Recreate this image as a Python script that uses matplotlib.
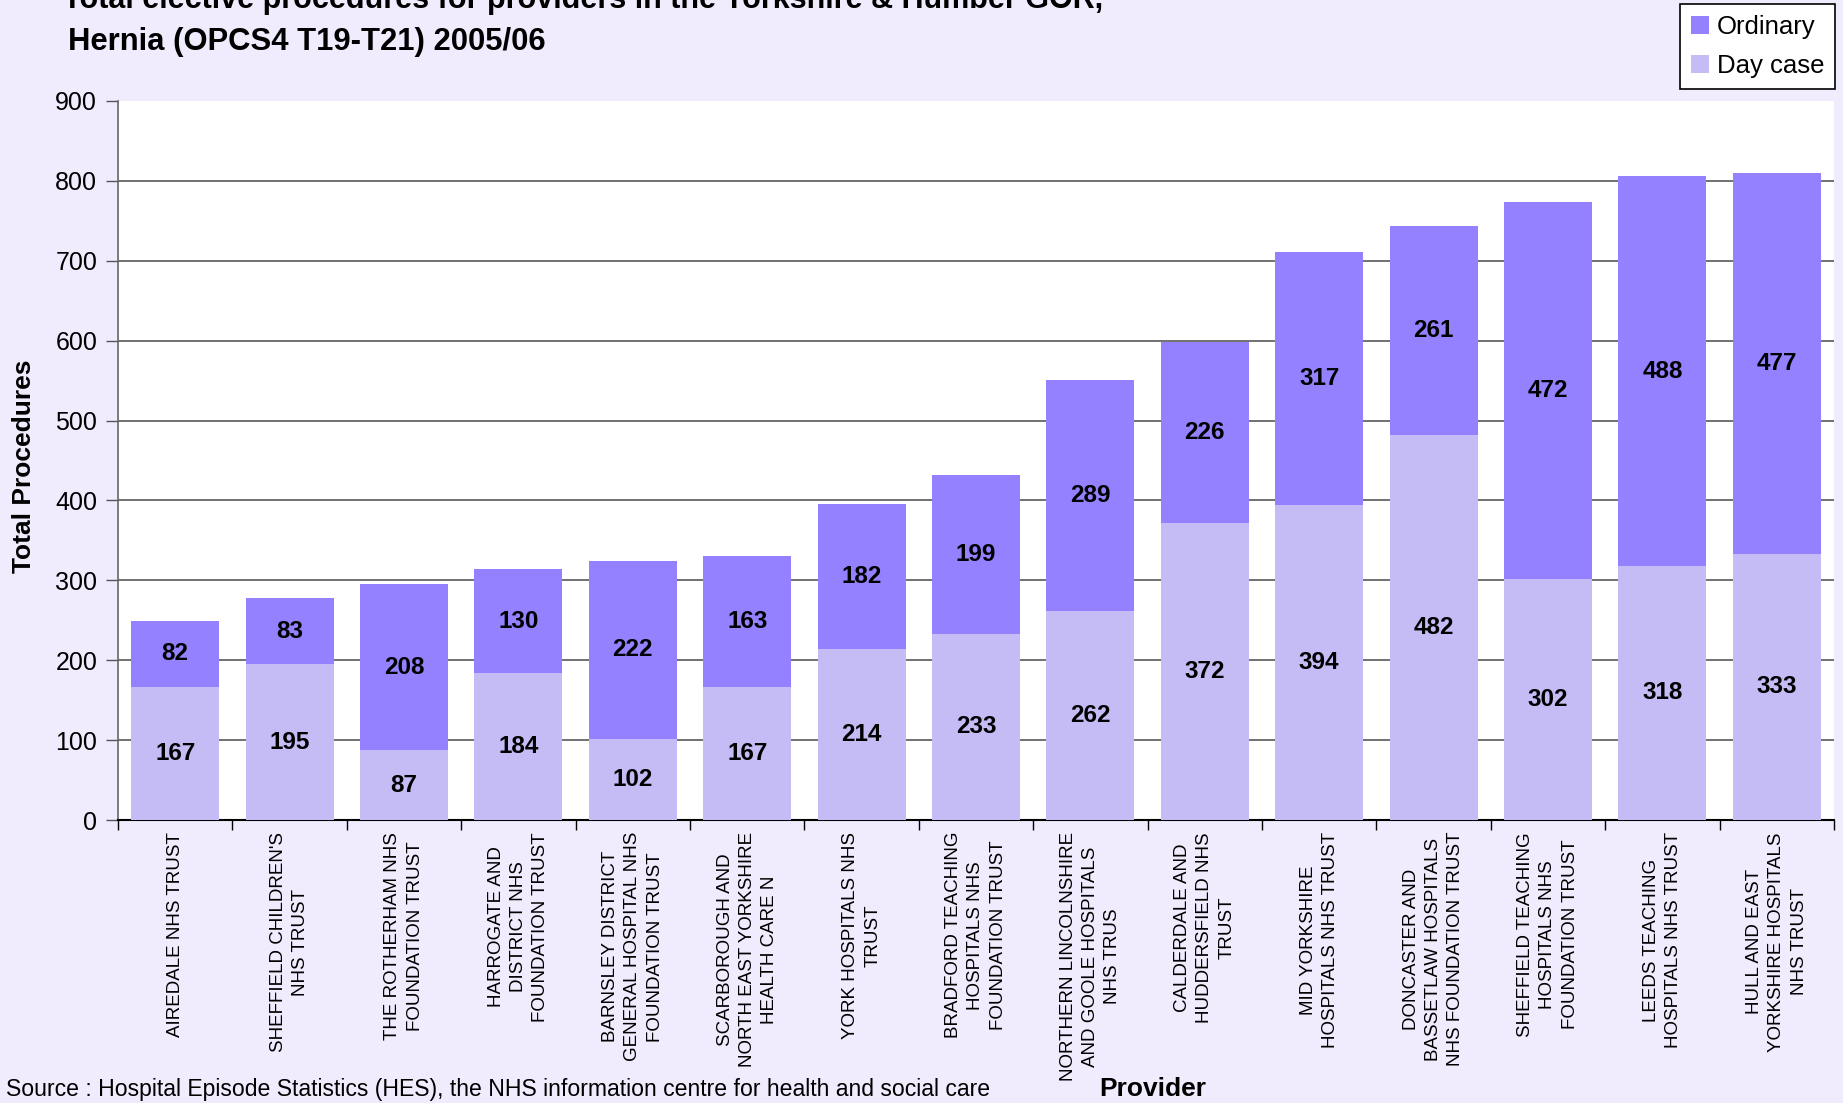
import matplotlib
matplotlib.use('Agg')
import matplotlib.pyplot as plt
import matplotlib.transforms as mtransforms
import numpy as np

# ---------------- data ----------------
providers = [
    "AIREDALE NHS TRUST",
    "SHEFFIELD CHILDREN'S\nNHS TRUST",
    "THE ROTHERHAM NHS\nFOUNDATION TRUST",
    "HARROGATE AND\nDISTRICT NHS\nFOUNDATION TRUST",
    "BARNSLEY DISTRICT\nGENERAL HOSPITAL NHS\nFOUNDATION TRUST",
    "SCARBOROUGH AND\nNORTH EAST YORKSHIRE\nHEALTH CARE N",
    "YORK HOSPITALS NHS\nTRUST",
    "BRADFORD TEACHING\nHOSPITALS NHS\nFOUNDATION TRUST",
    "NORTHERN LINCOLNSHIRE\nAND GOOLE HOSPITALS\nNHS TRUS",
    "CALDERDALE AND\nHUDDERSFIELD NHS\nTRUST",
    "MID YORKSHIRE\nHOSPITALS NHS TRUST",
    "DONCASTER AND\nBASSETLAW HOSPITALS\nNHS FOUNDATION TRUST",
    "SHEFFIELD TEACHING\nHOSPITALS NHS\nFOUNDATION TRUST",
    "LEEDS TEACHING\nHOSPITALS NHS TRUST",
    "HULL AND EAST\nYORKSHIRE HOSPITALS\nNHS TRUST",
]
day_case = [167, 195, 87, 184, 102, 167, 214, 233, 262, 372, 394, 482, 302, 318, 333]
ordinary = [82, 83, 208, 130, 222, 163, 182, 199, 289, 226, 317, 261, 472, 488, 477]
yticks = [0, 100, 200, 300, 400, 500, 600, 700, 800, 900]

title_line1 = "Total elective procedures for providers in the Yorkshire & Humber GOR,"
title_line2 = "Hernia (OPCS4 T19-T21) 2005/06"
source_text = "Source : Hospital Episode Statistics (HES), the NHS information centre for health and social care"

# ---------------- style ----------------
BG = "#F1EBFE"
ORD = "#9381FF"
DAY = "#C5BCF6"

plt.rcParams['font.family'] = ['Liberation Sans', 'DejaVu Sans']

W, H = 1843, 1103
fig = plt.figure(figsize=(W / 100, H / 100), dpi=100, facecolor=BG)

ax_left, ax_right, ax_top, ax_bottom = 118, 1834, 101, 820
ax = fig.add_axes([ax_left / W, 1 - ax_bottom / H,
                   (ax_right - ax_left) / W, (ax_bottom - ax_top) / H])
ax.set_facecolor('white')

x = np.arange(len(providers))
bw = 0.77
b_day = ax.bar(x, day_case, width=bw, color=DAY, zorder=3, label='Day case')
b_ord = ax.bar(x, ordinary, bottom=day_case, width=bw, color=ORD, zorder=3, label='Ordinary')

for xi, d, o in zip(x, day_case, ordinary):
    ax.text(xi, d / 2, str(d), ha='center', va='center', fontsize=17.5,
            fontweight='bold', color='black', zorder=4)
    ax.text(xi, d + o / 2, str(o), ha='center', va='center', fontsize=17.5,
            fontweight='bold', color='black', zorder=4)

ax.set_xlim(-0.5, len(providers) - 0.5)
ax.set_ylim(yticks[0], yticks[-1])

# gridlines (not at top)
ax.hlines(yticks[1:-1], -0.5, len(providers) - 0.5, colors='#4a4a4a',
          linewidth=1.1, zorder=1)

ax.set_yticks(yticks)
ax.set_yticklabels([str(v) for v in yticks])
ax.tick_params(axis='y', length=9, width=1, color='#555555', pad=6, labelsize=18,
               direction='out')
ax.set_xticks(np.arange(-0.5, len(providers), 1))
ax.set_xticklabels([])
ax.tick_params(axis='x', length=7, width=1, color='black', direction='out')

for s in ['top', 'right']:
    ax.spines[s].set_visible(False)
ax.spines['left'].set_color('#666666')
ax.spines['left'].set_linewidth(1.2)
ax.spines['bottom'].set_color('black')
ax.spines['bottom'].set_linewidth(1.5)

trans = mtransforms.blended_transform_factory(ax.transData, ax.transAxes)
off = 12 / (ax_bottom - ax_top)
for xi, lab in zip(x, providers):
    ax.text(xi, -off, lab, transform=trans, rotation=90, ha='center', va='top',
            multialignment='center', fontsize=13.5, linespacing=1.4)

# titles and annotations
fig.text(63 / W, 1 - 8 / H, title_line1, fontsize=22, fontweight='bold',
         ha='left', va='baseline')
fig.text(68 / W, 1 - 50 / H, title_line2, fontsize=22.3, fontweight='bold',
         ha='left', va='baseline')
fig.text(24 / W, 1 - 466 / H, 'Total Procedures', rotation=90, fontsize=19,
         fontweight='bold', ha='center', va='center')
fig.text(6 / W, 1 - 1096 / H, source_text, fontsize=16.6, ha='left', va='baseline')
fig.text(1153 / W, 1 - 1096 / H, 'Provider', fontsize=19, fontweight='bold',
         ha='center', va='baseline')

leg = fig.legend(handles=[b_ord, b_day], labels=['Ordinary', 'Day case'],
                 loc='upper right', bbox_to_anchor=(1835 / W, 1 - 4 / H),
                 fontsize=18.5, frameon=True, fancybox=False, edgecolor='black',
                 facecolor='white', framealpha=1, handlelength=0.7,
                 handleheight=0.7, handletextpad=0.3, borderpad=0.42,
                 labelspacing=0.6, borderaxespad=0)
leg.get_frame().set_linewidth(1.2)

fig.savefig('out.png', dpi=100, facecolor=BG)
